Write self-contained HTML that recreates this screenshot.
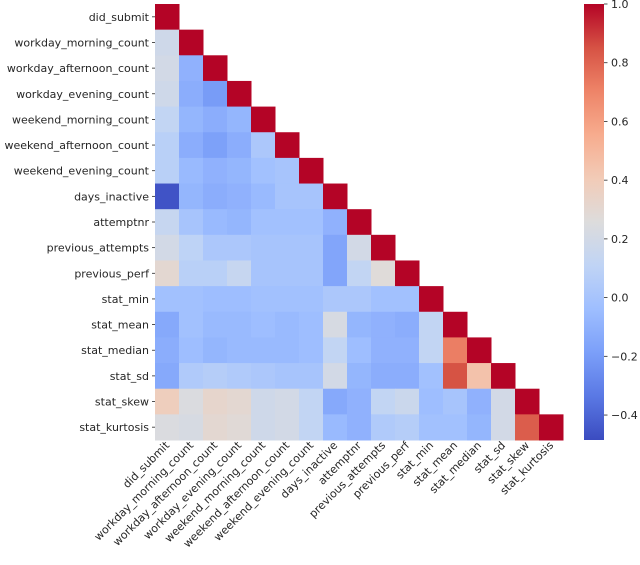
<!DOCTYPE html>
<html><head><meta charset="utf-8"><style>
body{margin:0;background:#fff;}
svg text{font-family:"DejaVu Sans","Liberation Sans",sans-serif;font-size:11px;fill:#262626;}
</style></head><body>
<svg id="chart" width="640" height="560" xmlns="http://www.w3.org/2000/svg"></svg>
<script>
const labels = ["did_submit","workday_morning_count","workday_afternoon_count","workday_evening_count","weekend_morning_count","weekend_afternoon_count","weekend_evening_count","days_inactive","attemptnr","previous_attempts","previous_perf","stat_min","stat_mean","stat_median","stat_sd","stat_skew","stat_kurtosis"];
const rowValues = [
 [],
 [0.18],
 [0.20,-0.10],
 [0.18,-0.12,-0.20],
 [0.12,-0.08,-0.12,-0.08],
 [0.08,-0.12,-0.18,-0.12,0.02],
 [0.08,-0.06,-0.10,-0.08,-0.02,0.00],
 [-0.46,-0.08,-0.12,-0.10,-0.06,0.00,0.00],
 [0.14,0.00,-0.06,-0.08,-0.02,-0.02,-0.02,-0.10],
 [0.20,0.10,0.02,0.02,0.00,0.00,0.00,-0.16,0.20],
 [0.30,0.08,0.08,0.14,0.00,0.00,0.00,-0.16,0.12,0.27],
 [-0.02,-0.02,-0.04,-0.04,-0.02,-0.02,-0.02,0.02,0.02,-0.02,-0.02],
 [-0.14,-0.02,-0.06,-0.06,-0.04,-0.06,-0.04,0.22,-0.08,-0.10,-0.12,0.12],
 [-0.12,-0.04,-0.08,-0.06,-0.06,-0.06,-0.04,0.12,-0.04,-0.10,-0.10,0.12,0.72],
 [-0.14,0.04,0.06,0.04,0.02,0.00,0.00,0.20,-0.08,-0.12,-0.12,-0.02,0.85,0.45],
 [0.38,0.24,0.32,0.30,0.18,0.20,0.12,-0.14,-0.10,0.12,0.16,-0.04,0.00,-0.10,0.20],
 [0.24,0.22,0.30,0.28,0.18,0.20,0.12,-0.06,-0.10,0.04,0.06,-0.02,-0.02,-0.08,0.20,0.82]
];
const cbTicks = [1.0,0.8,0.6,0.4,0.2,0.0,-0.2,-0.4];
const cbTickLabels = ["1.0","0.8","0.6","0.4","0.2","0.0","\u22120.2","\u22120.4"];

const VMIN=-0.485, VMAX=1.0;
const X0=155, Y0=4, CW=24, CH=(440-4)/17;
const CB_X=584, CB_W=20, CB_TOP=4, CB_BOT=440;
const stops=["#3b4cc0","#5a78e4","#7b9ff9","#9ebeff","#c0d4f5","#dddcdc","#f2cbb7","#f7ac8e","#ee8468","#d65244","#b40426"].map(h=>[parseInt(h.slice(1,3),16),parseInt(h.slice(3,5),16),parseInt(h.slice(5,7),16)]);
function cmap(v){
  let t=(v-VMIN)/(VMAX-VMIN); t=Math.max(0,Math.min(1,t));
  const p=t*10, i=Math.min(9,Math.floor(p)), f=p-i;
  const a=stops[i], b=stops[i+1];
  return "rgb("+a.map((c,k)=>Math.round(c+(b[k]-c)*f)).join(",")+")";
}
function xPos(j){return X0+j*CW;}
function yPos(i){return Y0+i*CH;}
function cbY(v){return CB_BOT-(v-VMIN)/(VMAX-VMIN)*(CB_BOT-CB_TOP);}
const svg=document.getElementById("chart");
const NS="http://www.w3.org/2000/svg";
function mk(tag,attrs){const e=document.createElementNS(NS,tag);for(const k in attrs)e.setAttribute(k,attrs[k]);svg.appendChild(e);return e;}

for(let i=0;i<labels.length;i++){
  const vals=rowValues[i].concat([1.0]);
  for(let j=0;j<vals.length;j++){
    const r=mk("rect",{x:xPos(j),y:yPos(i),width:CW+0.5,height:CH+0.5,fill:cmap(vals[j])});
    
    
  }
  const yl=mk("text",{x:X0-6,y:yPos(i)+CH/2+4,"text-anchor":"end"});
  yl.textContent=labels[i];
  
  
  const tk=mk("line",{x1:X0-3,x2:X0,y1:yPos(i)+CH/2,y2:yPos(i)+CH/2,stroke:"#262626","stroke-width":0.8});
  
  
  const cx=xPos(i)+CW/2+3, cy=446;
  const xl=mk("text",{x:cx,y:cy,"text-anchor":"end",transform:"rotate(-45 "+cx+" "+cy+")"});
  xl.textContent=labels[i];
  
  
}
// colorbar
const defs=mk("defs",{});
const g=document.createElementNS(NS,"linearGradient");
g.setAttribute("id","cbg");g.setAttribute("x1","0");g.setAttribute("y1","1");g.setAttribute("x2","0");g.setAttribute("y2","0");
stops.forEach((s,k)=>{const st=document.createElementNS(NS,"stop");st.setAttribute("offset",k/10);st.setAttribute("stop-color","rgb("+s.join(",")+")");g.appendChild(st);});
defs.appendChild(g);
const cb=mk("rect",{x:CB_X,y:CB_TOP,width:CB_W,height:CB_BOT-CB_TOP,fill:"url(#cbg)"});


cbTicks.forEach((v,k)=>{
  const y=cbY(v);
  const t=mk("line",{x1:CB_X+CB_W,x2:CB_X+CB_W+3.5,y1:y,y2:y,stroke:"#262626","stroke-width":0.8});
  
  
  const l=mk("text",{x:CB_X+CB_W+7,y:y+4});
  l.textContent=cbTickLabels[k];
  
  
});
</script>
</body></html>
